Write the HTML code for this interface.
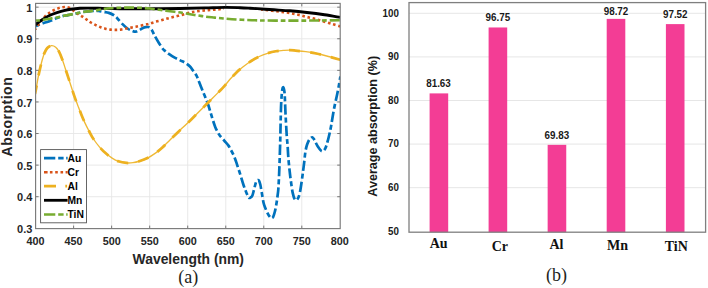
<!DOCTYPE html><html><head><meta charset="utf-8"><style>html,body{margin:0;padding:0;background:#fff;}svg{display:block;}text{font-family:"Liberation Sans",sans-serif;}</style></head><body>
<svg width="708" height="288" viewBox="0 0 708 288">
<defs><clipPath id="cl"><rect x="35.6" y="3.4" width="304.6" height="225.2"/></clipPath><mask id="mr" maskUnits="userSpaceOnUse" x="0" y="0" width="708" height="288"><rect x="0" y="0" width="708" height="288" fill="#fff"/><rect x="224" y="0" width="37" height="11.2" fill="#000"/></mask></defs>
<rect width="708" height="288" fill="#fff"/>
<path d="M73.61,3.40V228.60M111.64,3.40V228.60M149.68,3.40V228.60M187.71,3.40V228.60M225.75,3.40V228.60M263.78,3.40V228.60M301.81,3.40V228.60M35.60,196.71H340.20M35.60,165.12H340.20M35.60,133.53H340.20M35.60,101.94H340.20M35.60,70.35H340.20M35.60,38.76H340.20M35.60,7.17H340.20" stroke="#e6e6e6" stroke-width="0.9" fill="none"/>
<g clip-path="url(#cl)" fill="none" stroke-linejoin="round">
<path d="M35.50,26.30 C36.47,25.88 39.40,24.52 41.30,23.80 C43.20,23.08 45.37,22.50 46.90,22.00 C48.43,21.50 49.40,21.20 50.50,20.80 C51.60,20.40 52.42,20.05 53.50,19.60 C54.58,19.15 55.75,18.60 57.00,18.10 C58.25,17.60 59.83,16.98 61.00,16.60 C62.17,16.22 62.87,16.03 64.00,15.80 C65.13,15.57 66.32,15.47 67.80,15.20 C69.28,14.93 71.20,14.55 72.90,14.20 C74.60,13.85 76.17,13.48 78.00,13.10 C79.83,12.72 81.77,12.22 83.90,11.90 C86.03,11.58 88.95,11.38 90.80,11.20 C92.65,11.02 93.72,10.83 95.00,10.80 C96.28,10.77 97.07,10.82 98.50,11.00 C99.93,11.18 101.88,11.58 103.60,11.90 C105.32,12.22 107.15,12.38 108.80,12.90 C110.45,13.42 112.10,14.12 113.50,15.00 C114.90,15.88 115.78,16.77 117.20,18.20 C118.62,19.63 120.28,21.88 122.00,23.60 C123.72,25.32 125.67,27.23 127.50,28.50 C129.33,29.77 131.62,30.67 133.00,31.20 C134.38,31.73 134.97,31.73 135.80,31.70 C136.63,31.67 137.18,31.40 138.00,31.00 C138.82,30.60 139.78,29.83 140.70,29.30 C141.62,28.77 142.68,28.15 143.50,27.80 C144.32,27.45 144.93,27.33 145.60,27.20 C146.27,27.07 146.90,26.98 147.50,27.00 C148.10,27.02 148.48,26.82 149.20,27.30 C149.92,27.78 150.88,28.48 151.80,29.90 C152.72,31.32 153.52,33.62 154.70,35.80 C155.88,37.98 157.52,40.80 158.90,43.00 C160.28,45.20 161.98,47.68 163.00,49.00 C164.02,50.32 163.97,50.05 165.00,50.90 C166.03,51.75 167.58,52.98 169.20,54.10 C170.82,55.22 172.85,56.55 174.70,57.60 C176.55,58.65 178.45,59.48 180.30,60.40 C182.15,61.32 184.18,62.08 185.80,63.10 C187.42,64.12 188.80,65.27 190.00,66.50 C191.20,67.73 191.92,68.97 193.00,70.50 C194.08,72.03 195.58,74.03 196.50,75.70 C197.42,77.37 197.83,78.87 198.50,80.50 C199.17,82.13 199.83,83.83 200.50,85.50 C201.17,87.17 201.70,88.55 202.50,90.50 C203.30,92.45 204.35,94.82 205.30,97.20 C206.25,99.58 207.35,102.35 208.20,104.80 C209.05,107.25 209.68,109.55 210.40,111.90 C211.12,114.25 211.68,116.35 212.50,118.90 C213.32,121.45 214.32,124.78 215.30,127.20 C216.28,129.62 217.62,131.97 218.40,133.40 C219.18,134.83 219.03,134.60 220.00,135.80 C220.97,137.00 222.82,139.00 224.20,140.60 C225.58,142.20 227.15,143.78 228.30,145.40 C229.45,147.02 230.17,148.57 231.10,150.30 C232.03,152.03 233.08,153.95 233.90,155.80 C234.72,157.65 235.32,159.43 236.00,161.40 C236.68,163.37 237.32,165.52 238.00,167.60 C238.68,169.68 239.18,171.00 240.10,173.90 C241.02,176.80 242.47,181.90 243.50,185.00 C244.53,188.10 245.42,190.40 246.30,192.50 C247.18,194.60 248.08,196.78 248.80,197.60 C249.52,198.42 250.00,197.75 250.60,197.40 C251.20,197.05 251.80,196.93 252.40,195.50 C253.00,194.07 253.60,191.02 254.20,188.80 C254.80,186.58 255.47,183.63 256.00,182.20 C256.53,180.77 256.92,180.47 257.40,180.20 C257.88,179.93 258.42,179.88 258.90,180.60 C259.38,181.32 259.88,182.85 260.30,184.50 C260.72,186.15 261.03,188.42 261.40,190.50 C261.77,192.58 262.13,194.92 262.50,197.00 C262.87,199.08 263.18,201.30 263.60,203.00 C264.02,204.70 264.37,205.57 265.00,207.20 C265.63,208.83 266.62,211.23 267.40,212.80 C268.18,214.37 269.03,215.70 269.70,216.60 C270.37,217.50 270.82,218.17 271.40,218.20 C271.98,218.23 272.62,217.92 273.20,216.80 C273.78,215.68 274.38,213.55 274.90,211.50 C275.42,209.45 275.88,206.92 276.30,204.50 C276.72,202.08 277.07,199.50 277.40,197.00 C277.73,194.50 278.03,192.88 278.30,189.50 C278.57,186.12 278.80,180.92 279.00,176.70 C279.20,172.48 279.30,169.98 279.50,164.20 C279.70,158.42 280.02,148.75 280.20,142.00 C280.38,135.25 280.43,130.23 280.60,123.70 C280.77,117.17 280.93,108.33 281.20,102.80 C281.47,97.27 281.85,93.07 282.20,90.50 C282.55,87.93 282.90,86.90 283.30,87.40 C283.70,87.90 284.23,89.19 284.60,93.50 C284.97,97.81 285.15,106.33 285.50,113.25 C285.85,120.17 286.35,129.62 286.70,135.00 C287.05,140.38 287.33,141.83 287.60,145.50 C287.87,149.17 287.97,152.80 288.30,157.00 C288.63,161.20 289.18,166.80 289.60,170.70 C290.02,174.60 290.28,176.70 290.80,180.40 C291.32,184.10 292.00,189.68 292.70,192.90 C293.40,196.12 294.17,198.73 295.00,199.70 C295.83,200.67 296.90,199.83 297.70,198.70 C298.50,197.57 299.13,195.78 299.80,192.90 C300.47,190.02 301.15,185.05 301.70,181.40 C302.25,177.75 302.68,174.18 303.10,171.00 C303.52,167.82 303.82,165.50 304.20,162.30 C304.58,159.10 304.92,154.77 305.40,151.80 C305.88,148.83 306.42,146.58 307.10,144.50 C307.78,142.42 308.63,140.50 309.50,139.30 C310.37,138.10 311.48,137.18 312.30,137.30 C313.12,137.42 313.48,138.47 314.40,140.00 C315.32,141.53 316.57,144.63 317.80,146.50 C319.03,148.37 320.60,150.78 321.80,151.20 C323.00,151.62 324.08,150.45 325.00,149.00 C325.92,147.55 326.57,144.97 327.30,142.50 C328.03,140.03 328.75,137.03 329.40,134.20 C330.05,131.37 330.45,129.62 331.20,125.50 C331.95,121.38 332.80,115.21 333.90,109.50 C335.00,103.79 336.72,96.75 337.80,91.25 C338.88,85.75 339.97,78.96 340.40,76.50" stroke="#0072BD" stroke-width="2.7" stroke-dasharray="10.3 3 5 3" stroke-dashoffset="13.78"/>
<path d="M35.50,29.20 C36.25,28.03 38.33,24.40 40.00,22.20 C41.67,20.00 43.67,17.73 45.50,16.00 C47.33,14.27 49.15,12.97 51.00,11.80 C52.85,10.63 54.97,9.70 56.60,9.00 C58.23,8.30 59.40,7.93 60.80,7.60 C62.20,7.27 63.62,6.98 65.00,7.00 C66.38,7.02 67.67,7.10 69.10,7.70 C70.53,8.30 72.12,9.57 73.60,10.60 C75.08,11.63 76.52,12.88 78.00,13.90 C79.48,14.92 81.05,15.75 82.50,16.70 C83.95,17.65 85.32,18.63 86.70,19.60 C88.08,20.57 89.30,21.58 90.80,22.50 C92.30,23.42 94.07,24.32 95.70,25.10 C97.33,25.88 98.98,26.60 100.60,27.20 C102.22,27.80 103.77,28.30 105.40,28.70 C107.03,29.10 108.70,29.40 110.40,29.60 C112.10,29.80 113.87,29.90 115.60,29.90 C117.33,29.90 119.07,29.82 120.80,29.60 C122.53,29.38 124.30,28.93 126.00,28.60 C127.70,28.27 129.37,27.90 131.00,27.60 C132.63,27.30 134.07,27.15 135.80,26.80 C137.53,26.45 139.53,25.92 141.40,25.50 C143.27,25.08 145.35,24.70 147.00,24.30 C148.65,23.90 149.76,23.55 151.30,23.10 C152.84,22.65 154.63,22.05 156.25,21.60 C157.87,21.15 159.38,20.85 161.00,20.40 C162.62,19.95 164.37,19.37 166.00,18.90 C167.63,18.43 169.13,18.03 170.80,17.60 C172.47,17.17 174.26,16.70 176.00,16.30 C177.74,15.90 179.58,15.63 181.25,15.20 C182.92,14.77 184.36,14.18 186.00,13.70 C187.64,13.22 189.47,12.67 191.10,12.30 C192.73,11.93 194.15,11.75 195.80,11.50 C197.45,11.25 199.26,11.00 201.00,10.80 C202.74,10.60 204.50,10.45 206.25,10.30 C208.00,10.15 209.71,10.03 211.50,9.90 C213.29,9.77 215.17,9.68 217.00,9.50 C218.83,9.32 220.67,9.07 222.50,8.80 C224.33,8.53 226.08,8.08 228.00,7.90 C229.92,7.73 232.00,7.74 234.00,7.75 C236.00,7.76 237.33,7.83 240.00,7.95 C242.67,8.07 247.17,8.28 250.00,8.45 C252.83,8.62 254.72,8.72 257.00,8.95 C259.28,9.17 261.13,9.49 263.70,9.80 C266.27,10.11 269.52,10.47 272.40,10.80 C275.28,11.13 278.12,11.43 281.00,11.80 C283.88,12.17 286.80,12.50 289.70,13.00 C292.60,13.50 295.52,14.13 298.40,14.80 C301.28,15.47 304.10,16.28 307.00,17.00 C309.90,17.72 312.88,18.32 315.80,19.10 C318.72,19.88 321.60,20.83 324.50,21.70 C327.40,22.57 330.60,23.52 333.20,24.30 C335.80,25.08 338.95,26.05 340.10,26.40" stroke="#D95319" stroke-width="2.6" stroke-dasharray="2.6 2.7" stroke-dashoffset="1.31" mask="url(#mr)"/>
<path d="M35.00,94.00 C35.27,92.67 36.05,88.92 36.60,86.00 C37.15,83.08 37.68,79.58 38.30,76.50 C38.92,73.42 39.62,70.38 40.30,67.50 C40.98,64.62 41.70,61.63 42.40,59.20 C43.10,56.77 43.68,54.77 44.50,52.90 C45.32,51.03 46.13,49.22 47.30,48.00 C48.47,46.78 50.10,45.73 51.50,45.60 C52.90,45.47 54.45,46.20 55.70,47.20 C56.95,48.20 57.92,49.60 59.00,51.60 C60.08,53.60 61.15,56.38 62.20,59.20 C63.25,62.02 64.27,65.38 65.30,68.50 C66.33,71.62 67.35,74.68 68.40,77.90 C69.45,81.12 70.57,84.63 71.60,87.80 C72.63,90.97 73.57,93.97 74.60,96.90 C75.63,99.83 76.70,102.52 77.80,105.40 C78.90,108.28 80.03,111.33 81.20,114.20 C82.37,117.07 83.50,119.80 84.80,122.60 C86.10,125.40 87.58,128.31 89.00,131.00 C90.42,133.69 91.53,136.07 93.30,138.75 C95.07,141.43 97.52,144.67 99.60,147.10 C101.68,149.53 103.72,151.47 105.80,153.30 C107.88,155.13 110.02,156.78 112.10,158.10 C114.18,159.42 115.87,160.45 118.30,161.25 C120.73,162.05 124.27,162.66 126.70,162.90 C129.13,163.14 130.82,162.97 132.90,162.70 C134.98,162.42 136.77,162.02 139.20,161.25 C141.63,160.48 144.73,159.49 147.50,158.10 C150.27,156.71 153.37,154.63 155.80,152.90 C158.23,151.17 160.07,149.52 162.10,147.70 C164.13,145.88 165.75,144.22 168.00,142.00 C170.25,139.78 171.72,138.17 175.60,134.40 C179.47,130.63 186.03,124.51 191.25,119.40 C196.47,114.29 201.69,108.97 206.90,103.75 C212.11,98.53 218.65,92.17 222.50,88.10 C226.35,84.02 227.71,81.87 230.00,79.30 C232.29,76.73 234.17,74.70 236.25,72.70 C238.33,70.70 240.07,69.21 242.50,67.30 C244.93,65.39 248.02,63.05 250.80,61.25 C253.58,59.45 256.42,57.83 259.20,56.50 C261.98,55.17 264.73,54.17 267.50,53.30 C270.27,52.42 273.02,51.73 275.80,51.25 C278.58,50.77 281.83,50.57 284.20,50.40 C286.57,50.23 288.13,50.17 290.00,50.20 C291.87,50.23 292.77,50.35 295.40,50.60 C298.03,50.85 302.32,51.22 305.80,51.70 C309.28,52.18 312.77,52.78 316.25,53.50 C319.73,54.22 322.71,54.95 326.70,56.00 C330.69,57.05 337.95,59.17 340.20,59.80" stroke="#EDB120" stroke-width="1.35" opacity="0.9"/>
<path d="M35.00,94.00 C35.27,92.67 36.05,88.92 36.60,86.00 C37.15,83.08 37.68,79.58 38.30,76.50 C38.92,73.42 39.62,70.38 40.30,67.50 C40.98,64.62 41.70,61.63 42.40,59.20 C43.10,56.77 43.68,54.77 44.50,52.90 C45.32,51.03 46.13,49.22 47.30,48.00 C48.47,46.78 50.10,45.73 51.50,45.60 C52.90,45.47 54.45,46.20 55.70,47.20 C56.95,48.20 57.92,49.60 59.00,51.60 C60.08,53.60 61.15,56.38 62.20,59.20 C63.25,62.02 64.27,65.38 65.30,68.50 C66.33,71.62 67.35,74.68 68.40,77.90 C69.45,81.12 70.57,84.63 71.60,87.80 C72.63,90.97 73.57,93.97 74.60,96.90 C75.63,99.83 76.70,102.52 77.80,105.40 C78.90,108.28 80.03,111.33 81.20,114.20 C82.37,117.07 83.50,119.80 84.80,122.60 C86.10,125.40 87.58,128.31 89.00,131.00 C90.42,133.69 91.53,136.07 93.30,138.75 C95.07,141.43 97.52,144.67 99.60,147.10 C101.68,149.53 103.72,151.47 105.80,153.30 C107.88,155.13 110.02,156.78 112.10,158.10 C114.18,159.42 115.87,160.45 118.30,161.25 C120.73,162.05 124.27,162.66 126.70,162.90 C129.13,163.14 130.82,162.97 132.90,162.70 C134.98,162.42 136.77,162.02 139.20,161.25 C141.63,160.48 144.73,159.49 147.50,158.10 C150.27,156.71 153.37,154.63 155.80,152.90 C158.23,151.17 160.07,149.52 162.10,147.70 C164.13,145.88 165.75,144.22 168.00,142.00 C170.25,139.78 171.72,138.17 175.60,134.40 C179.47,130.63 186.03,124.51 191.25,119.40 C196.47,114.29 201.69,108.97 206.90,103.75 C212.11,98.53 218.65,92.17 222.50,88.10 C226.35,84.02 227.71,81.87 230.00,79.30 C232.29,76.73 234.17,74.70 236.25,72.70 C238.33,70.70 240.07,69.21 242.50,67.30 C244.93,65.39 248.02,63.05 250.80,61.25 C253.58,59.45 256.42,57.83 259.20,56.50 C261.98,55.17 264.73,54.17 267.50,53.30 C270.27,52.42 273.02,51.73 275.80,51.25 C278.58,50.77 281.83,50.57 284.20,50.40 C286.57,50.23 288.13,50.17 290.00,50.20 C291.87,50.23 292.77,50.35 295.40,50.60 C298.03,50.85 302.32,51.22 305.80,51.70 C309.28,52.18 312.77,52.78 316.25,53.50 C319.73,54.22 322.71,54.95 326.70,56.00 C330.69,57.05 337.95,59.17 340.20,59.80" stroke="#EDB120" stroke-width="2.75" stroke-dasharray="11 10.35" stroke-dashoffset="2.4"/>
<path d="M35.50,24.60 C36.25,24.03 38.42,22.30 40.00,21.20 C41.58,20.10 43.33,19.00 45.00,18.00 C46.67,17.00 48.00,16.10 50.00,15.20 C52.00,14.30 54.68,13.35 57.00,12.60 C59.32,11.85 61.60,11.25 63.90,10.70 C66.20,10.15 68.12,9.70 70.80,9.30 C73.48,8.90 77.13,8.50 80.00,8.30 C82.87,8.10 85.03,8.10 88.00,8.10 C90.97,8.10 92.47,8.20 97.80,8.30 C103.13,8.40 111.30,8.62 120.00,8.70 C128.70,8.78 140.00,8.83 150.00,8.80 C160.00,8.77 170.83,8.65 180.00,8.50 C189.17,8.35 197.50,8.08 205.00,7.90 C212.50,7.72 219.17,7.43 225.00,7.40 C230.83,7.37 235.83,7.57 240.00,7.70 C244.17,7.83 245.83,7.95 250.00,8.20 C254.17,8.45 261.00,8.93 265.00,9.20 C269.00,9.47 269.83,9.53 274.00,9.80 C278.17,10.07 284.50,10.35 290.00,10.80 C295.50,11.25 301.25,11.83 307.00,12.50 C312.75,13.17 318.98,13.98 324.50,14.80 C330.02,15.62 337.50,16.97 340.10,17.40" stroke="#000" stroke-width="2.9"/>
<path d="M35.50,20.60 C36.25,20.53 38.42,20.38 40.00,20.20 C41.58,20.02 43.33,19.77 45.00,19.50 C46.67,19.23 48.67,18.83 50.00,18.60 C51.33,18.37 51.67,18.33 53.00,18.10 C54.33,17.87 56.67,17.47 58.00,17.20 C59.33,16.93 60.00,16.75 61.00,16.50 C62.00,16.25 62.87,15.93 64.00,15.70 C65.13,15.47 66.32,15.37 67.80,15.10 C69.28,14.83 71.20,14.45 72.90,14.10 C74.60,13.75 76.17,13.38 78.00,13.00 C79.83,12.62 81.77,12.12 83.90,11.80 C86.03,11.48 88.48,11.38 90.80,11.10 C93.12,10.82 95.48,10.47 97.80,10.10 C100.12,9.73 102.67,9.20 104.70,8.90 C106.73,8.60 108.12,8.47 110.00,8.30 C111.88,8.13 113.95,8.00 116.00,7.90 C118.05,7.80 119.97,7.75 122.30,7.70 C124.63,7.65 127.10,7.58 130.00,7.60 C132.90,7.62 136.37,7.65 139.70,7.80 C143.03,7.95 147.12,8.22 150.00,8.50 C152.88,8.78 152.93,8.95 157.00,9.50 C161.07,10.05 170.07,11.22 174.40,11.80 C178.73,12.38 180.62,12.63 183.00,13.00 C185.38,13.37 186.32,13.60 188.70,14.00 C191.08,14.40 194.42,14.95 197.30,15.40 C200.18,15.85 203.10,16.33 206.00,16.70 C208.90,17.07 211.80,17.30 214.70,17.60 C217.60,17.90 220.52,18.23 223.40,18.50 C226.28,18.77 228.90,18.98 232.00,19.20 C235.10,19.42 238.67,19.63 242.00,19.80 C245.33,19.97 248.67,20.08 252.00,20.20 C255.33,20.32 257.33,20.43 262.00,20.50 C266.67,20.57 273.67,20.58 280.00,20.60 C286.33,20.62 293.33,20.62 300.00,20.60 C306.67,20.58 313.32,20.57 320.00,20.50 C326.68,20.43 336.75,20.25 340.10,20.20" stroke="#77AC30" stroke-width="2.6" stroke-dasharray="10 2.9 4.83 2.9" stroke-dashoffset="13.32"/>
</g>
<path d="M73.61,228.60v-3M73.61,3.40v3M111.64,228.60v-3M111.64,3.40v3M149.68,228.60v-3M149.68,3.40v3M187.71,228.60v-3M187.71,3.40v3M225.75,228.60v-3M225.75,3.40v3M263.78,228.60v-3M263.78,3.40v3M301.81,228.60v-3M301.81,3.40v3M35.60,196.71h3M340.20,196.71h-3M35.60,165.12h3M340.20,165.12h-3M35.60,133.53h3M340.20,133.53h-3M35.60,101.94h3M340.20,101.94h-3M35.60,70.35h3M340.20,70.35h-3M35.60,38.76h3M340.20,38.76h-3M35.60,7.17h3M340.20,7.17h-3" stroke="#6a6a6a" stroke-width="0.9" fill="none"/>
<rect x="35.60" y="3.40" width="304.60" height="225.20" stroke="#7a7a7a" stroke-width="1.15" fill="none"/>
<text x="35.57" y="244.6" font-size="10.8" font-weight="bold" fill="#262626" text-anchor="middle">400</text>
<text x="73.61" y="244.6" font-size="10.8" font-weight="bold" fill="#262626" text-anchor="middle">450</text>
<text x="111.64" y="244.6" font-size="10.8" font-weight="bold" fill="#262626" text-anchor="middle">500</text>
<text x="149.68" y="244.6" font-size="10.8" font-weight="bold" fill="#262626" text-anchor="middle">550</text>
<text x="187.71" y="244.6" font-size="10.8" font-weight="bold" fill="#262626" text-anchor="middle">600</text>
<text x="225.75" y="244.6" font-size="10.8" font-weight="bold" fill="#262626" text-anchor="middle">650</text>
<text x="263.78" y="244.6" font-size="10.8" font-weight="bold" fill="#262626" text-anchor="middle">700</text>
<text x="301.81" y="244.6" font-size="10.8" font-weight="bold" fill="#262626" text-anchor="middle">750</text>
<text x="339.85" y="244.6" font-size="10.8" font-weight="bold" fill="#262626" text-anchor="middle">800</text>
<text x="32.4" y="232.90" font-size="11" font-weight="bold" fill="#262626" text-anchor="end">0.3</text>
<text x="32.4" y="201.31" font-size="11" font-weight="bold" fill="#262626" text-anchor="end">0.4</text>
<text x="32.4" y="169.72" font-size="11" font-weight="bold" fill="#262626" text-anchor="end">0.5</text>
<text x="32.4" y="138.13" font-size="11" font-weight="bold" fill="#262626" text-anchor="end">0.6</text>
<text x="32.4" y="106.54" font-size="11" font-weight="bold" fill="#262626" text-anchor="end">0.7</text>
<text x="32.4" y="74.95" font-size="11" font-weight="bold" fill="#262626" text-anchor="end">0.8</text>
<text x="32.4" y="43.36" font-size="11" font-weight="bold" fill="#262626" text-anchor="end">0.9</text>
<text x="32.4" y="11.77" font-size="11" font-weight="bold" fill="#262626" text-anchor="end">1</text>
<text x="188.3" y="263.9" font-size="13.9" font-weight="bold" fill="#262626" text-anchor="middle">Wavelength (nm)</text>
<text transform="translate(11.9,116.6) rotate(-90)" letter-spacing="0.5" font-size="14" font-weight="bold" fill="#262626" text-anchor="middle">Absorption</text>
<rect x="40.6" y="149.6" width="45.9" height="73.2" fill="#fff" stroke="#555" stroke-width="0.9"/>
<path d="M44.0,158.20H67.6" stroke="#0072BD" stroke-width="2.7" stroke-dasharray="11.3 2.9 5.4 2.6 1.8 9" fill="none"/>
<text x="67.5" y="162.10" font-size="10.3" font-weight="bold" fill="#000">Au</text>
<path d="M44.0,172.20H67.6" stroke="#D95319" stroke-width="2.6" stroke-dasharray="3.6 2.3 2.6 2.7 2.6 2.7 2.6 2.5 2.3 10" fill="none"/>
<text x="67.5" y="176.10" font-size="10.3" font-weight="bold" fill="#000">Cr</text>
<path d="M44.0,186.20H67.6" stroke="#EDB120" stroke-width="2.8" stroke-dasharray="12 9.3 1.8 9" fill="none"/>
<text x="67.5" y="190.10" font-size="10.3" font-weight="bold" fill="#000">Al</text>
<path d="M44.0,200.30H67.6" stroke="#000" stroke-width="2.8" fill="none"/>
<text x="67.5" y="204.20" font-size="10.3" font-weight="bold" fill="#000">Mn</text>
<path d="M44.0,214.50H67.6" stroke="#77AC30" stroke-width="2.6" stroke-dasharray="11.3 2.9 5.4 2.6 1.8 9" fill="none"/>
<text x="67.5" y="218.40" font-size="10.3" font-weight="bold" fill="#000">TiN</text>
<text x="188.3" y="282.6" font-family="Liberation Serif" font-size="18" fill="#231f20" text-anchor="middle" style="font-family:'Liberation Serif',serif">(a)</text>
<path d="M409.00,187.70H705.60M409.00,144.10H705.60M409.00,100.50H705.60M409.00,56.90H705.60M409.00,13.30H705.60" stroke="#e3e3e3" stroke-width="0.9" fill="none"/>
<rect x="429.60" y="93.39" width="18.60" height="138.81" fill="#F33D95"/>
<rect x="426.00" y="79.50" width="25" height="8.6" fill="#fff"/>
<text transform="translate(438.50,87.30) scale(0.93,1)" font-size="10.6" font-weight="bold" fill="#1a1a1a" text-anchor="middle">81.63</text>
<rect x="488.60" y="27.47" width="18.60" height="204.73" fill="#F33D95"/>
<rect x="485.40" y="13.10" width="25" height="8.6" fill="#fff"/>
<text transform="translate(497.90,20.90) scale(0.93,1)" font-size="10.6" font-weight="bold" fill="#1a1a1a" text-anchor="middle">96.75</text>
<rect x="547.65" y="144.84" width="18.60" height="87.36" fill="#F33D95"/>
<rect x="544.40" y="131.00" width="25" height="8.6" fill="#fff"/>
<text transform="translate(556.90,138.80) scale(0.93,1)" font-size="10.6" font-weight="bold" fill="#1a1a1a" text-anchor="middle">69.83</text>
<rect x="606.70" y="18.88" width="18.60" height="213.32" fill="#F33D95"/>
<rect x="603.50" y="7.30" width="25" height="8.6" fill="#fff"/>
<text transform="translate(616.00,15.10) scale(0.93,1)" font-size="10.6" font-weight="bold" fill="#1a1a1a" text-anchor="middle">98.72</text>
<rect x="665.90" y="24.11" width="18.60" height="208.09" fill="#F33D95"/>
<rect x="662.75" y="10.30" width="25" height="8.6" fill="#fff"/>
<text transform="translate(675.25,18.10) scale(0.93,1)" font-size="10.6" font-weight="bold" fill="#1a1a1a" text-anchor="middle">97.52</text>
<rect x="409.00" y="2.60" width="296.60" height="229.60" stroke="#7f7f7f" stroke-width="1.3" fill="none"/>
<text transform="translate(398.9,234.50) scale(0.93,1)" font-size="10.5" font-weight="bold" fill="#1a1a1a" text-anchor="end">50</text>
<text transform="translate(398.9,191.00) scale(0.93,1)" font-size="10.5" font-weight="bold" fill="#1a1a1a" text-anchor="end">60</text>
<text transform="translate(398.9,147.40) scale(0.93,1)" font-size="10.5" font-weight="bold" fill="#1a1a1a" text-anchor="end">70</text>
<text transform="translate(398.9,103.80) scale(0.93,1)" font-size="10.5" font-weight="bold" fill="#1a1a1a" text-anchor="end">80</text>
<text transform="translate(398.9,60.20) scale(0.93,1)" font-size="10.5" font-weight="bold" fill="#1a1a1a" text-anchor="end">90</text>
<text transform="translate(398.9,16.60) scale(0.93,1)" font-size="10.5" font-weight="bold" fill="#1a1a1a" text-anchor="end">100</text>
<text transform="translate(376.5,126.3) rotate(-90)" font-size="12.6" font-weight="bold" fill="#1a1a1a" text-anchor="middle">Average absorption (%)</text>
<text x="438.60" y="248.10" font-size="14" font-weight="bold" fill="#111" text-anchor="middle" style="font-family:'Liberation Serif',serif">Au</text>
<text x="499.90" y="250.80" font-size="14" font-weight="bold" fill="#111" text-anchor="middle" style="font-family:'Liberation Serif',serif">Cr</text>
<text x="556.50" y="249.30" font-size="14" font-weight="bold" fill="#111" text-anchor="middle" style="font-family:'Liberation Serif',serif">Al</text>
<text x="617.50" y="250.30" font-size="14" font-weight="bold" fill="#111" text-anchor="middle" style="font-family:'Liberation Serif',serif">Mn</text>
<text x="676.30" y="250.60" font-size="14" font-weight="bold" fill="#111" text-anchor="middle" style="font-family:'Liberation Serif',serif">TiN</text>
<text x="556.6" y="280.6" font-size="18" fill="#231f20" text-anchor="middle" style="font-family:'Liberation Serif',serif">(b)</text>
</svg></body></html>
